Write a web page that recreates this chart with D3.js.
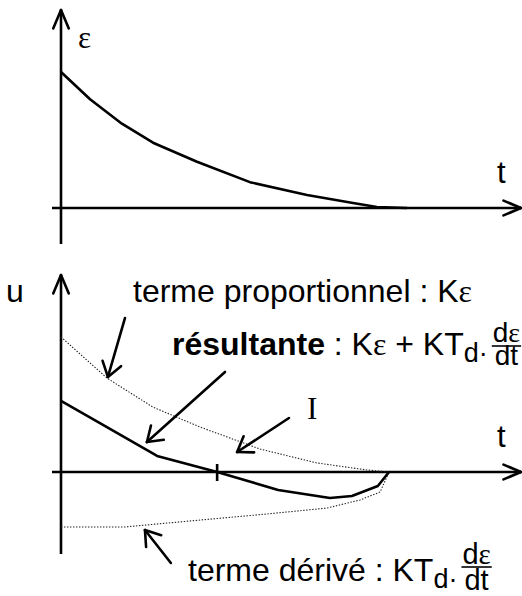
<!DOCTYPE html>
<html>
<head>
<meta charset="utf-8">
<script src="https://cdn.jsdelivr.net/npm/d3@7"></script>
<style>
  html, body { margin: 0; padding: 0; background: #fff; }
  svg { display: block; }
  text { white-space: pre; }
</style>
</head>
<body>
<svg id="chart" width="522" height="596"></svg>
<script>
// Error signal ε(t), vertices of the decaying polyline
const epsTime  = [0, 0.84, 1.76, 2.66, 3.93, 5.46, 7.11, 8.44, 9.13, 10];
const epsValue = [1, 0.80, 0.62, 0.48, 0.34, 0.19, 0.096, 0.037, 0.007, 0];

// Controller output u(t): proportional term Kε
const propTime  = [0, 0.67, 1.40, 2.80, 4.24, 6.07, 7.80, 9.33, 10];
const propValue = [1.0, 0.854, 0.696, 0.481, 0.333, 0.170, 0.067, 0.015, 0];

// Resulting command Kε + KTd·dε/dt
const resTime  = [0, 1.40, 2.93, 4.76, 6.62, 8.20, 8.87, 9.66, 10];
const resValue = [0.526, 0.333, 0.119, 0, -0.133, -0.193, -0.178, -0.104, 0];

// Derivative term KTd·dε/dt
const derTime  = [0, 1.95, 4.24, 6.28, 8.11, 9.12, 9.73, 10];
const derValue = [-0.407, -0.407, -0.356, -0.311, -0.267, -0.207, -0.148, 0];

// Instant where the resulting command changes sign
const zeroCrossing = 4.76;

// Pointer arrows (time, value) from tail to tip, in the u(t) frame
const arrowNotes = [
  { from: [1.95, 1.14],   to: [1.43, 0.704] },
  { from: [5.00, 0.741],  to: [2.62, 0.222] },
  { from: [6.95, 0.40],   to: [5.37, 0.148] },
  { from: [3.35, -0.674], to: [2.56, -0.43] }
];

const SANS  = "'Liberation Sans', Arial, sans-serif";
const SERIF = "'Liberation Serif', 'Times New Roman', serif";
const INK = "#000";

const svg = d3.select("#chart");

// ---- scales ----
const xTop = d3.scaleLinear().domain([0, 10]).range([61, 407]);
const yTop = d3.scaleLinear().domain([0, 1]).range([208, 72]);
const xBot = d3.scaleLinear().domain([0, 10]).range([61, 389]);
const yBot = d3.scaleLinear().domain([0, 1]).range([472, 337]);

// ---- helpers ----
function openHead(g, tip, dirAngle, len, half, width) {
  // dirAngle: direction the arrow points to (radians)
  const back = dirAngle + Math.PI;
  [back - half, back + half].forEach(a => {
    g.append("line")
      .attr("x1", tip[0]).attr("y1", tip[1])
      .attr("x2", tip[0] + len * Math.cos(a))
      .attr("y2", tip[1] + len * Math.sin(a))
      .attr("stroke", INK).attr("stroke-width", width)
      .attr("stroke-linecap", "round");
  });
}

function drawFrame(g, x0, yTopEnd, yBottomEnd, xLeft, xRight, y0) {
  g.append("line").attr("x1", x0).attr("x2", x0)
    .attr("y1", yTopEnd).attr("y2", yBottomEnd)
    .attr("stroke", INK).attr("stroke-width", 2.6);
  g.append("line").attr("x1", xLeft).attr("x2", xRight)
    .attr("y1", y0).attr("y2", y0)
    .attr("stroke", INK).attr("stroke-width", 2.6);
  openHead(g, [x0, yTopEnd], -Math.PI / 2, 20, 0.40, 2.6);
  openHead(g, [xRight, y0], 0, 19, 0.40, 2.6);
}

function plainLabel(x, y, str, family, size) {
  return svg.append("text").attr("x", x).attr("y", y)
    .attr("font-family", family).attr("font-size", size)
    .attr("fill", INK).text(str);
}

// Builds a label out of runs; runs may be bold, serif (for ε) or subscript
function richLabel(x, y, size, runs) {
  const t = svg.append("text").attr("x", x).attr("y", y)
    .attr("font-family", SANS).attr("font-size", size).attr("fill", INK);
  runs.forEach(r => {
    const ts = t.append("tspan").text(r.s);
    if (r.bold) ts.attr("font-weight", "bold");
    if (r.serif) ts.attr("font-family", SERIF);
    if (r.sub) ts.attr("font-size", r.sub.size).attr("dy", r.sub.dy);
  });
  return t;
}

// dε/dt written as a stacked fraction (one text element) starting at x
function fraction(x, lineY, size, numGap, denGap) {
  const g = svg.append("g");
  const t = g.append("text")
    .attr("font-family", SANS).attr("font-size", size).attr("fill", INK)
    .attr("text-anchor", "middle");
  const numD = t.append("tspan").attr("y", lineY - numGap).text("d");
  const numE = t.append("tspan").attr("font-family", SERIF).text("ε");
  const den = t.append("tspan").attr("y", lineY + denGap).text("dt");
  const wNum = numD.node().getComputedTextLength() + numE.node().getComputedTextLength();
  const wDen = den.node().getComputedTextLength();
  const w = Math.max(wNum, wDen) + 2;
  const cx = x + w / 2;
  numD.attr("x", cx - wNum / 2 + numD.node().getComputedTextLength() / 2)
      .attr("text-anchor", "middle");
  numE.attr("x", cx + wNum / 2 - numE.node().getComputedTextLength() / 2)
      .attr("text-anchor", "middle");
  den.attr("x", cx);
  g.append("line").attr("x1", x).attr("x2", x + w)
    .attr("y1", lineY).attr("y2", lineY)
    .attr("stroke", INK).attr("stroke-width", 1.6);
}

// ---- upper panel: ε(t) ----
const panelEps = svg.append("g");
drawFrame(panelEps, xTop(0), 10, 244, 52, 521, yTop(0));

panelEps.append("path")
  .datum(epsTime.map((t, i) => [t, epsValue[i]]))
  .attr("fill", "none").attr("stroke", INK).attr("stroke-width", 2.6)
  .attr("stroke-linejoin", "round")
  .attr("d", d3.line().x(d => xTop(d[0])).y(d => yTop(d[1])));

plainLabel(78, 48, "ε", SERIF, 31);
plainLabel(497, 183, "t", SANS, 31);

// ---- lower panel: u(t) ----
const panelU = svg.append("g");
drawFrame(panelU, xBot(0), 275, 554, 52, 521, yBot(0));

const lineBot = d3.line().x(d => xBot(d[0])).y(d => yBot(d[1]));

// proportional term (dotted)
panelU.append("path")
  .datum(propTime.map((t, i) => [t, propValue[i]]))
  .attr("fill", "none").attr("stroke", "#222").attr("stroke-width", 1.1)
  .attr("stroke-dasharray", "1.4 1.6")
  .attr("d", lineBot);

// derivative term (dotted)
panelU.append("path")
  .datum(derTime.map((t, i) => [t, derValue[i]]))
  .attr("fill", "none").attr("stroke", "#222").attr("stroke-width", 1.1)
  .attr("stroke-dasharray", "1.4 1.6")
  .attr("d", lineBot);

// resulting command (solid)
panelU.append("path")
  .datum(resTime.map((t, i) => [t, resValue[i]]))
  .attr("fill", "none").attr("stroke", INK).attr("stroke-width", 2.6)
  .attr("stroke-linejoin", "round")
  .attr("d", lineBot);

// tick at the sign change of the command
panelU.append("line")
  .attr("x1", xBot(zeroCrossing)).attr("x2", xBot(zeroCrossing))
  .attr("y1", yBot(0) - 8).attr("y2", yBot(0) + 9)
  .attr("stroke", INK).attr("stroke-width", 2.6);

// pointer arrows
arrowNotes.forEach(a => {
  const p0 = [xBot(a.from[0]), yBot(a.from[1])];
  const p1 = [xBot(a.to[0]), yBot(a.to[1])];
  panelU.append("line")
    .attr("x1", p0[0]).attr("y1", p0[1]).attr("x2", p1[0]).attr("y2", p1[1])
    .attr("stroke", INK).attr("stroke-width", 2.6).attr("stroke-linecap", "round");
  openHead(panelU, p1, Math.atan2(p1[1] - p0[1], p1[0] - p0[0]), 17, 0.6, 2.6);
});

// labels
plainLabel(6, 302, "u", SANS, 32);
plainLabel(497, 447, "t", SANS, 31);
plainLabel(307, 419, "I", SERIF, 31);

richLabel(133, 302, 32, [
  { s: "terme proportionnel : K" },
  { s: "ε", serif: true }
]);

const resLabel = richLabel(172, 355, 32, [
  { s: "résultante", bold: true },
  { s: " : K" },
  { s: "ε", serif: true },
  { s: " + KT" },
  { s: "d·", sub: { size: 27, dy: 7 } }
]);
fraction(172 + resLabel.node().getComputedTextLength() + 4, 346, 28, 4, 19);

const derLabel = richLabel(188, 581, 32, [
  { s: "terme dérivé : KT" },
  { s: "d·", sub: { size: 27, dy: 7 } }
]);
fraction(188 + derLabel.node().getComputedTextLength() + 4, 567, 29, 3, 23);
</script>
</body>
</html>
